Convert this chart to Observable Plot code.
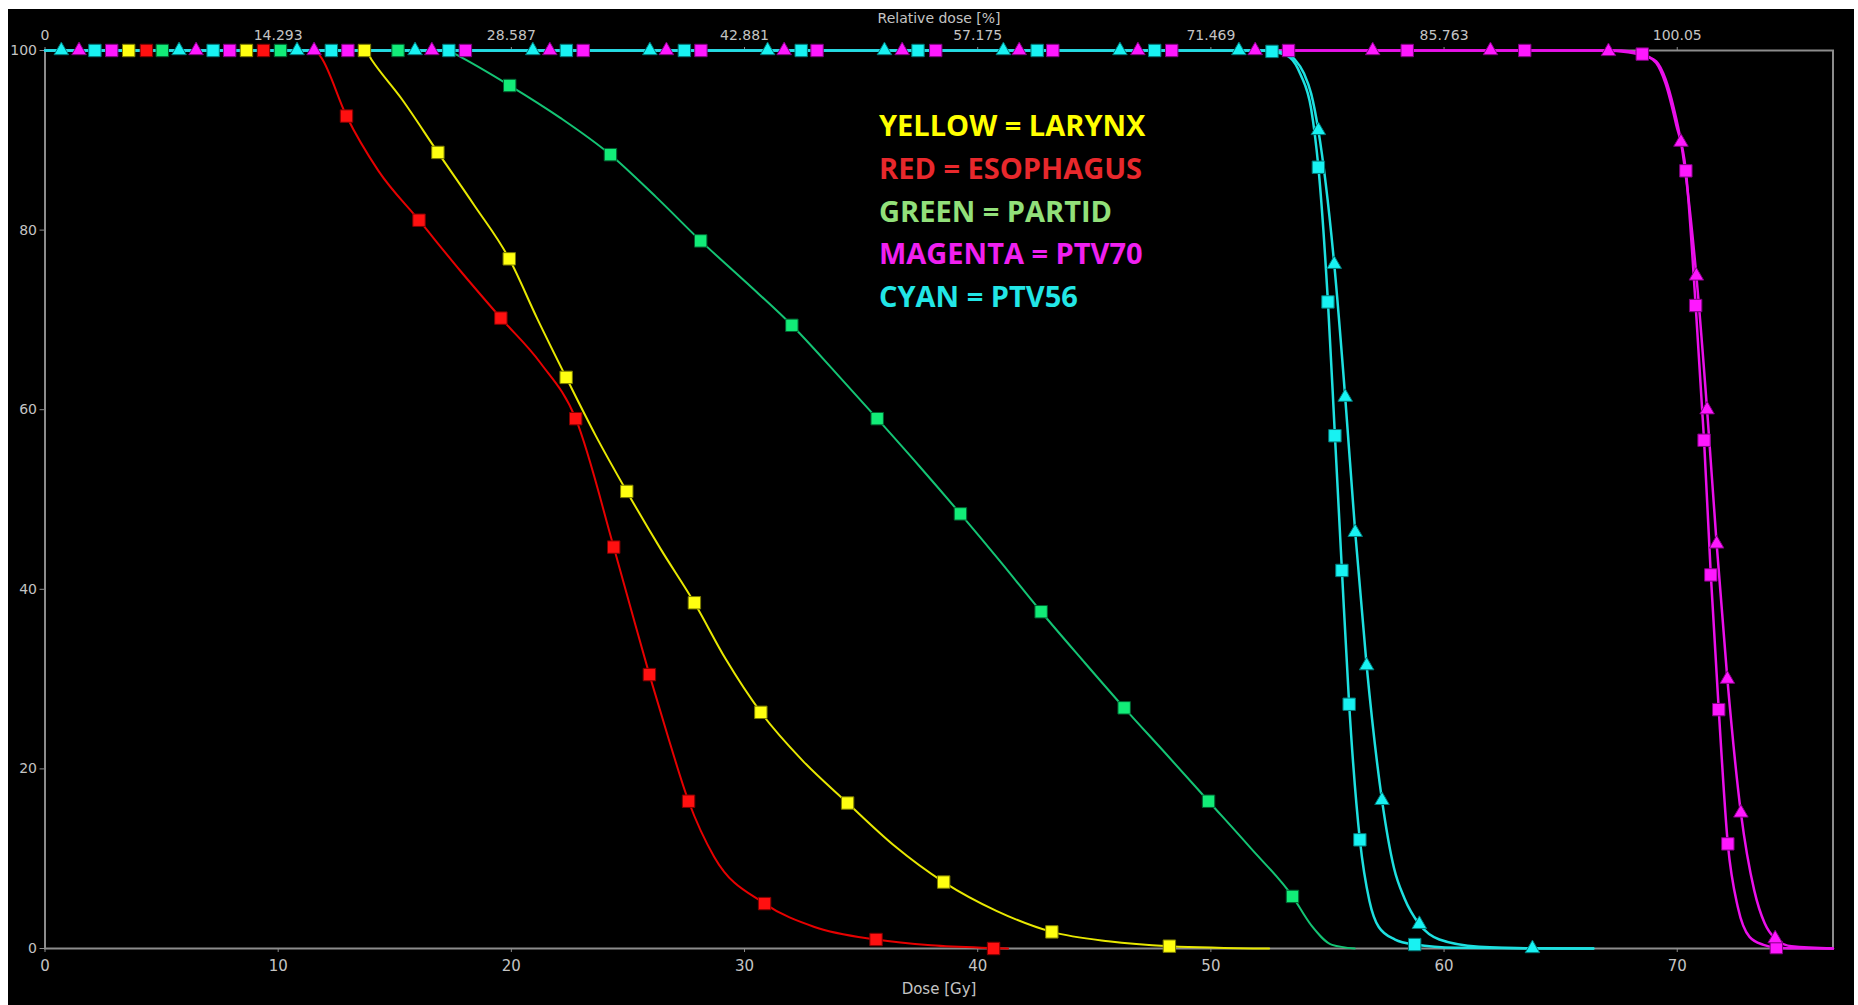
<!DOCTYPE html>
<html>
<head>
<meta charset="utf-8">
<script src="https://cdn.jsdelivr.net/npm/d3@7"></script>
<script src="https://cdn.jsdelivr.net/npm/@observablehq/plot@0.6"></script>
<style>
  html, body { margin: 0; padding: 0; background: #ffffff; }
  #wrap { position: absolute; left: 8px; top: 9px; width: 1846px; height: 996px; background: #000; overflow: hidden; }
  #chart { position: absolute; left: 0; top: 0; }
  .leg { position: absolute; left: 871px; font-family: "Open Sans", sans-serif; font-weight: 700; font-size: 29px; line-height: 29px; white-space: nowrap; }
</style>
</head>
<body>
<div id="wrap"><div id="chart"></div></div>
<script>
// ---------- axis ticks ----------
const doseTicks = [0, 10, 20, 30, 40, 50, 60, 70];
const relDoseLabels = ["0", "14.293", "28.587", "42.881", "57.175", "71.469", "85.763", "100.05"];
const volumeTicks = [0, 20, 40, 60, 80, 100];

// ---------- legend ----------
const legendColours = ["YELLOW", "RED", "GREEN", "MAGENTA", "CYAN"];
const legendStructures = ["LARYNX", "ESOPHAGUS", "PARTID", "PTV70", "PTV56"];

// ---------- LARYNX (yellow) ----------
const larynxDose = [0, 13.75, 14.0, 15.3, 16.85, 18.4, 19.91, 21.1, 22.35, 23.6, 24.95, 26.4, 27.85, 29.2, 30.7, 32.5, 34.42, 36.4, 38.54, 40.8, 43.18, 45.6, 48.22, 52.5];
const larynxVol  = [100, 100, 99.0, 94.6, 88.65, 82.8, 76.8, 70.2, 63.6, 57.2, 50.9, 44.5, 38.5, 32.2, 26.3, 20.9, 16.2, 11.5, 7.4, 4.2, 1.85, 0.8, 0.26, 0];
const larynxMarkDose = [3.59, 8.64, 13.7, 16.85, 19.91, 22.35, 24.95, 27.85, 30.7, 34.42, 38.54, 43.18, 48.22];
const larynxMarkVol  = [100, 100, 100, 88.65, 76.8, 63.6, 50.9, 38.5, 26.3, 16.2, 7.4, 1.85, 0.26];

// ---------- ESOPHAGUS (red) ----------
const esophagusDose = [0, 11.6, 11.85, 12.93, 14.3, 16.04, 17.8, 19.55, 21.25, 22.76, 24.39, 25.15, 25.92, 26.75, 27.6, 28.7, 30.86, 33.0, 35.64, 38.0, 40.68, 41.3];
const esophagusVol  = [100, 100, 99.2, 92.7, 86.6, 81.1, 75.5, 70.2, 65.2, 59.0, 44.7, 37.6, 30.5, 23.3, 16.4, 10.2, 5.0, 2.4, 1.0, 0.35, 0.05, 0];
const esophagusMarkDose = [4.35, 9.37, 12.93, 16.04, 19.55, 22.76, 24.39, 25.92, 27.6, 30.86, 35.64, 40.68];
const esophagusMarkVol  = [100, 100, 92.7, 81.1, 70.2, 59.0, 44.7, 30.5, 16.4, 5.0, 1.0, 0];

// ---------- PAROTID (green) ----------
const parotidDose = [0, 17.3, 17.6, 19.93, 22.1, 24.25, 26.2, 28.12, 30.1, 32.03, 33.85, 35.69, 37.5, 39.26, 41.0, 42.72, 44.5, 46.28, 48.1, 49.9, 51.7, 53.5, 54.3, 55.2, 56.17];
const parotidVol  = [100, 100, 99.6, 96.1, 92.5, 88.4, 83.7, 78.8, 74.1, 69.4, 64.3, 59.0, 53.7, 48.4, 43.0, 37.5, 32.1, 26.8, 21.6, 16.4, 11.2, 5.8, 2.6, 0.4, 0];
const parotidMarkDose = [5.03, 10.1, 15.14, 19.93, 24.25, 28.12, 32.03, 35.69, 39.26, 42.72, 46.28, 49.9, 53.5];
const parotidMarkVol  = [100, 100, 100, 96.1, 88.4, 78.8, 69.4, 59.0, 48.4, 37.5, 26.8, 16.4, 5.8];

// ---------- PTV70 (magenta), squares ----------
const ptv70SqDose = [0, 67.6, 68.5, 69.1, 69.5, 69.95, 70.37, 70.79, 71.15, 71.44, 71.78, 72.17, 72.6, 73.1, 73.7, 74.25, 75.2, 76.68];
const ptv70SqVol  = [100, 100, 99.6, 98.6, 96.3, 91.8, 86.6, 71.6, 56.6, 41.6, 26.6, 11.65, 4.6, 1.3, 0.4, 0.1, 0.02, 0];
const ptv70SqMarkDose = [2.86, 7.92, 12.99, 18.03, 23.08, 28.13, 33.11, 38.2, 43.22, 48.32, 53.33, 58.42, 63.46, 68.5, 70.37, 70.79, 71.15, 71.44, 71.78, 72.17, 74.25];
const ptv70SqMarkVol  = [100, 100, 100, 100, 100, 100, 100, 100, 100, 100, 100, 100, 100, 99.6, 86.6, 71.6, 56.6, 41.6, 26.6, 11.65, 0.1];

// ---------- PTV70 (magenta), triangles ----------
const ptv70TriDose = [0, 66.9, 67.9, 68.7, 69.1, 69.5, 69.85, 70.16, 70.82, 71.28, 71.69, 72.15, 72.73, 73.3, 73.75, 74.2, 74.9, 76.68];
const ptv70TriVol  = [100, 100, 99.8, 99.3, 98.8, 96.8, 93.6, 89.8, 74.9, 60.0, 45.06, 30.0, 15.1, 6.5, 2.8, 1.1, 0.25, 0];
const ptv70TriMarkDose = [1.46, 6.48, 11.54, 16.59, 21.65, 26.65, 31.7, 36.76, 41.78, 46.87, 51.9, 56.94, 61.99, 67.05, 70.16, 70.82, 71.28, 71.69, 72.15, 72.73, 74.2];
const ptv70TriMarkVol  = [100, 100, 100, 100, 100, 100, 100, 100, 100, 100, 100, 100, 100, 99.9, 89.8, 74.9, 60.0, 45.06, 30.0, 15.1, 1.1];

// ---------- PTV56 (cyan), squares ----------
const ptv56SqDose = [0, 52.0, 52.8, 53.4, 53.85, 54.3, 54.61, 55.02, 55.32, 55.62, 55.93, 56.39, 56.8, 57.2, 57.9, 58.74, 60.5, 66.4];
const ptv56SqVol  = [100, 100, 99.8, 99.2, 97.3, 93.5, 87.0, 72.0, 57.1, 42.1, 27.2, 12.1, 5.3, 2.4, 1.0, 0.44, 0.08, 0];
const ptv56SqMarkDose = [2.14, 7.21, 12.28, 17.32, 22.36, 27.42, 32.43, 37.44, 42.55, 47.59, 52.62, 54.61, 55.02, 55.32, 55.62, 55.93, 56.39, 58.74];
const ptv56SqMarkVol  = [100, 100, 100, 100, 100, 100, 100, 100, 100, 100, 99.9, 87.0, 72.0, 57.1, 42.1, 27.2, 12.1, 0.44];

// ---------- PTV56 (cyan), triangles ----------
const ptv56TriDose = [0, 52.4, 53.1, 53.6, 54.0, 54.3, 54.61, 55.29, 55.76, 56.19, 56.68, 57.34, 57.85, 58.3, 58.94, 59.8, 61.5, 63.79, 66.4];
const ptv56TriVol  = [100, 100, 99.8, 99.0, 97.4, 95.2, 91.1, 76.2, 61.4, 46.35, 31.5, 16.5, 9.0, 5.6, 2.7, 1.0, 0.2, 0.02, 0];
const ptv56TriMarkDose = [0.7, 5.75, 10.81, 15.87, 20.92, 25.94, 30.99, 36.0, 41.1, 46.1, 51.2, 54.61, 55.29, 55.76, 56.19, 56.68, 57.34, 58.94, 63.79];
const ptv56TriMarkVol  = [100, 100, 100, 100, 100, 100, 100, 100, 100, 100, 100, 91.1, 76.2, 61.4, 46.35, 31.5, 16.5, 2.7, 0];

// ---------- styles ----------
const lineColour   = {larynx: "#e8e800", esophagus: "#e60000", parotid: "#14c474", ptv70: "#ea10ea", ptv56: "#1ee0e0"};
const markerFill   = {larynx: "#ffff10", esophagus: "#ff1010", parotid: "#12ec78", ptv70: "#ff18ff", ptv56: "#18f2f2"};
const markerStroke = {larynx: "#7a7a00", esophagus: "#800000", parotid: "#006030", ptv70: "#800080", ptv56: "#007878"};
const legendColour = ["#ffff00", "#e8282c", "#92e07a", "#f020f0", "#22e6e6"];

const curves = [
  {key: "larynx", dose: larynxDose, vol: larynxVol, mDose: larynxMarkDose, mVol: larynxMarkVol, symbol: "square", w: 2},
  {key: "esophagus", dose: esophagusDose, vol: esophagusVol, mDose: esophagusMarkDose, mVol: esophagusMarkVol, symbol: "square", w: 2},
  {key: "parotid", dose: parotidDose, vol: parotidVol, mDose: parotidMarkDose, mVol: parotidMarkVol, symbol: "square", w: 2},
  {key: "ptv70", dose: ptv70SqDose, vol: ptv70SqVol, mDose: ptv70SqMarkDose, mVol: ptv70SqMarkVol, symbol: "square", w: 2.5},
  {key: "ptv70", dose: ptv70TriDose, vol: ptv70TriVol, mDose: ptv70TriMarkDose, mVol: ptv70TriMarkVol, symbol: "triangle", w: 2.5},
  {key: "ptv56", dose: ptv56SqDose, vol: ptv56SqVol, mDose: ptv56SqMarkDose, mVol: ptv56SqMarkVol, symbol: "square", w: 2.5},
  {key: "ptv56", dose: ptv56TriDose, vol: ptv56TriVol, mDose: ptv56TriMarkDose, mVol: ptv56TriMarkVol, symbol: "triangle", w: 2.5}
];

const toPts = (xs, ys) => xs.map((x, i) => ({x, y: ys[i]}));

const lineMarks = curves.map(c => Plot.line(toPts(c.dose, c.vol), {
  x: "x", y: "y", stroke: lineColour[c.key], strokeWidth: c.w, curve: "monotone-x"
}));
const dotMarks = curves.map(c => Plot.dot(toPts(c.mDose, c.mVol), {
  x: "x", y: "y", symbol: c.symbol, r: c.symbol === "square" ? 7.0 : 5.4,
  fill: markerFill[c.key], stroke: markerStroke[c.key], strokeWidth: 1
}));

const axisGrey = "#8c8c8c";
const textGrey = "#c4c4c4";

const chart = Plot.plot({
  width: 1846,
  height: 996,
  marginLeft: 36.5,
  marginRight: 21.5,
  marginTop: 41,
  marginBottom: 57,
  style: {background: "#000000", color: textGrey, fontFamily: "DejaVu Sans", fontSize: "14px", overflow: "visible"},
  x: {domain: [0, 76.68]},
  y: {domain: [0, 100]},
  marks: [
    Plot.frame({stroke: axisGrey, strokeWidth: 2}),
    Plot.axisX({anchor: "bottom", ticks: doseTicks, tickSize: 4, tickPadding: 8, fontSize: 15, stroke: axisGrey, fill: textGrey, label: null}),
    Plot.axisX({anchor: "top", ticks: doseTicks, tickFormat: d => relDoseLabels[doseTicks.indexOf(d)], tickSize: 4, tickPadding: 7, fontSize: 14, stroke: axisGrey, fill: textGrey, label: null}),
    Plot.axisY({ticks: volumeTicks, tickSize: 5, tickPadding: 3, fontSize: 14, stroke: axisGrey, fill: textGrey, label: null}),
    Plot.text(["Dose [Gy]"], {frameAnchor: "bottom", dy: 41, fill: textGrey, fontSize: 15, lineAnchor: "middle"}),
    Plot.text(["Relative dose [%]"], {frameAnchor: "top", dy: -32, fill: textGrey, fontSize: 14, lineAnchor: "middle"}),
    ...lineMarks,
    ...dotMarks
  ]
});
document.getElementById("chart").appendChild(chart);

// legend (text only)
const wrap = document.getElementById("wrap");
const legendCentres = [116.6, 159.3, 201.9, 244.6, 287.3];
legendColours.forEach((c, i) => {
  const d = document.createElement("div");
  d.className = "leg";
  d.style.top = (legendCentres[i] - 15.4) + "px";
  d.style.color = legendColour[i];
  d.textContent = c + " = " + legendStructures[i];
  wrap.appendChild(d);
});
</script>
</body>
</html>
